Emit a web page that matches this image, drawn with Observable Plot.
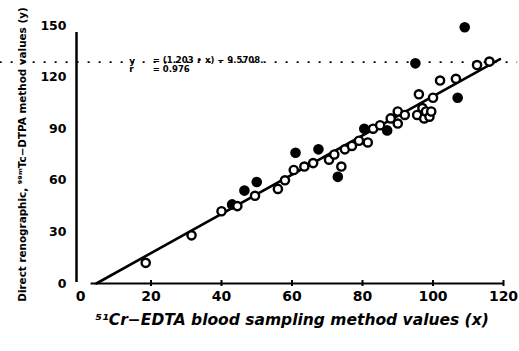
<!DOCTYPE html>
<html>
<head>
<meta charset="utf-8">
<script src="https://cdn.jsdelivr.net/npm/d3@7"></script>
<script src="https://cdn.jsdelivr.net/npm/@observablehq/plot@0.6"></script>
<style>
  html, body { margin: 0; padding: 0; background: #fff; }
  #chart svg { display: block; font-family: "DejaVu Sans", sans-serif; }
</style>
</head>
<body>
<div id="chart"></div>
<script>
// 51Cr-EDTA values (x) and 99mTc-DTPA renography values (y)
const xValues = [18.5, 31.5, 40, 43, 44.5, 46.5, 49.5, 50, 56, 58, 60.5, 61, 63.5, 66, 67.5, 70.5, 72, 73, 74, 75, 77, 79, 80.5, 81.5, 83, 85, 87, 88, 90, 90, 92, 95, 95.5, 96, 97, 97.5, 98, 99, 99.5, 100, 102, 106.5, 107, 109, 112.5, 116];
const yValues = [12, 28, 42, 46, 45, 54, 51, 59, 55, 60, 66, 76, 68, 70, 78, 72, 75, 62, 68, 78, 80, 83, 90, 82, 90, 92, 89, 96, 93, 100, 98, 128, 98, 110, 102, 96, 100, 97, 100, 108, 118, 119, 108, 149, 127, 129];
const filledFlags = [0, 0, 0, 1, 0, 1, 0, 1, 0, 0, 0, 1, 0, 0, 1, 0, 0, 1, 0, 0, 0, 0, 1, 0, 0, 0, 1, 0, 0, 0, 0, 1, 0, 0, 0, 0, 0, 0, 0, 0, 0, 0, 1, 1, 0, 0];

// regression line end points
const lineX = [4.5, 119];
const lineY = [0, 130.5];

// dotted reference line
const refY = [128.7];
const refSpan = [-22.8, 124];

const xTicks = [0, 20, 40, 60, 80, 100, 120];
const yTicks = [0, 30, 60, 90, 120, 150];
const xAxisSpan = [3, 120];

const eqSymbols = ["y", "r"];
const eqTexts = ["= (1.203 • x) − 9.5708.", "= 0.976"];
const eqRowY = [129.5, 124.5];

const xLabel = "⁵¹Cr−EDTA blood sampling method values (x)";
const yLabel = "Direct renographic, ⁹⁹ᵐTc−DTPA method values (y)";

const points = xValues.map((x, i) => ({x, y: yValues[i], filled: filledFlags[i] === 1}));
const regLine = lineX.map((x, i) => ({x, y: lineY[i]}));
const eqRows = eqSymbols.map((s, i) => ({s, t: eqTexts[i], y: eqRowY[i]}));

const chart = Plot.plot({
  width: 519,
  height: 351,
  marginLeft: 80,
  marginRight: 16,
  marginTop: 25,
  marginBottom: 68,
  x: {domain: [0, 120], axis: null},
  y: {domain: [0, 150], axis: null},
  style: {background: "#fff", color: "#000"},
  marks: [
    // dotted reference line
    Plot.ruleY(refY, {x1: refSpan[0], x2: refSpan[1], stroke: "#000", strokeWidth: 1.6, strokeDasharray: "2,9"}),
    // y axis line
    Plot.ruleX([0], {y1: 0, y2: 150, dx: -4, stroke: "#000", strokeWidth: 2.5, insetBottom: -7, insetTop: -1}),
    // x axis line
    Plot.ruleY([0], {x1: xAxisSpan[0], x2: xAxisSpan[1], stroke: "#000", strokeWidth: 1.8}),
    Plot.ruleX(xTicks.slice(1), {y1: 0, y2: 0, insetTop: -3, insetBottom: -3, stroke: "#000", strokeWidth: 2}),
    Plot.axisX({ticks: xTicks, tickSize: 0, tickPadding: 8, tickFormat: d => String(d), fontSize: 14, fontWeight: "bold", label: null}),
    Plot.axisY({ticks: yTicks, tickSize: 0, tickPadding: 14, tickFormat: d => String(d), fontSize: 12.5, fontWeight: "bold", label: null}),
    // regression line
    Plot.line(regLine, {x: "x", y: "y", stroke: "#000", strokeWidth: 2.6}),
    // points
    Plot.dot(points, {x: "x", y: "y", r: 4.1, stroke: "#000", strokeWidth: 2.4, fill: d => d.filled ? "#000" : "#fff"}),
    // equation
    Plot.text(eqRows, {x: 13.8, y: "y", text: "s", fontSize: 9, fontWeight: "bold", textAnchor: "start"}),
    Plot.text(eqRows, {x: 20.5, y: "y", text: "t", fontSize: 8.5, fontWeight: "bold", textAnchor: "start"}),
    // axis titles
    Plot.text([xLabel], {frameAnchor: "bottom", dy: 41, dx: 0, text: d => d, fontSize: 15.5, fontWeight: "bold", fontStyle: "italic", textAnchor: "middle"}),
    Plot.text([yLabel], {frameAnchor: "left", dx: -58, dy: 0, rotate: -90, text: d => d, fontSize: 10.4, fontWeight: "bold", textAnchor: "middle"})
  ]
});
document.getElementById("chart").appendChild(chart);
</script>
</body>
</html>
